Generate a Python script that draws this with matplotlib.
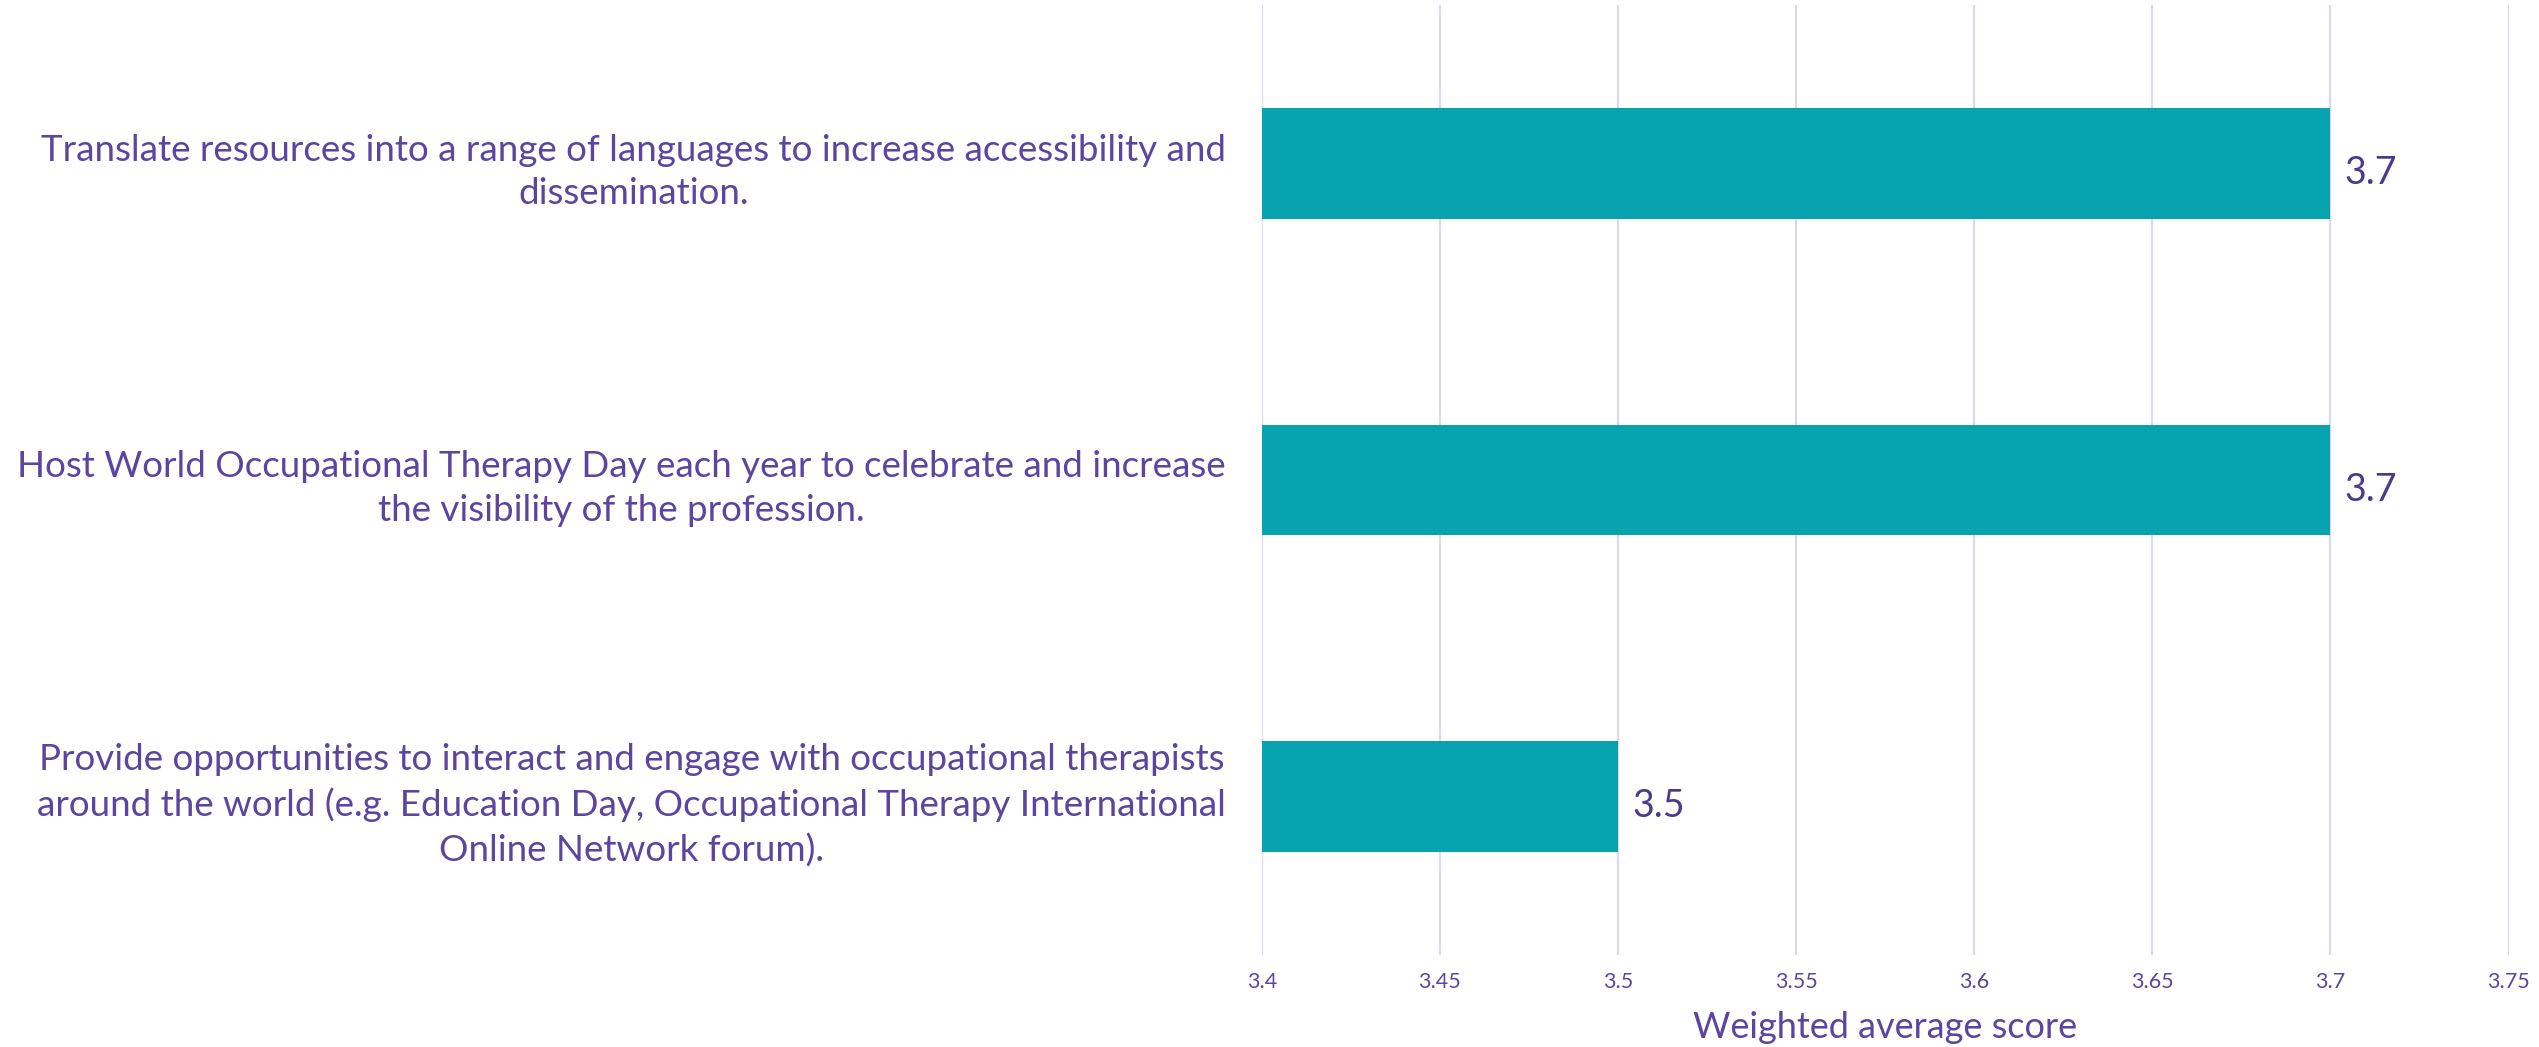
import matplotlib
matplotlib.use("Agg")
from matplotlib import pyplot as plt
import numpy as np

# data (top to bottom)
labels = [
    "Translate resources into a range of languages to increase accessibility and\ndissemination.",
    "Host World Occupational Therapy Day each year to celebrate and increase\nthe visibility of the profession.",
    "Provide opportunities to interact and engage with occupational therapists\naround the world (e.g. Education Day, Occupational Therapy International\nOnline Network forum).",
]
scores = [3.7, 3.7, 3.5]
xticks = [3.4, 3.45, 3.5, 3.55, 3.6, 3.65, 3.7, 3.75]
xtick_labels = ["3.4", "3.45", "3.5", "3.55", "3.6", "3.65", "3.7", "3.75"]

purple = "#5B45A0"
teal = "#07A4B0"
grid_col = "#D9D8EA"

plt.rcParams['font.family'] = ['Lato', 'DejaVu Sans']

fig = plt.figure(figsize=(25.39, 10.47), dpi=100)
ax = fig.add_axes([0.497, 0.088, 0.491, 0.907])

y = np.arange(len(labels))
ax.barh(y, np.array(scores) - 3.4, left=3.4, height=0.35, color=teal, zorder=3)
for yi, v in zip(y, scores):
    ax.text(v + 0.004, yi + 0.03, f"{v:g}", va="center", ha="left",
            fontsize=27, color="#4B3A8C")

ax.set_xlim(3.4, 3.75)
ax.set_ylim(2.5, -0.5)
ax.set_xticks(xticks)
ax.set_xticklabels(xtick_labels, fontsize=15.5, color=purple)
ax.set_yticks(y)
ax.set_yticklabels(labels, fontsize=26.5, color=purple,
                   multialignment="center", linespacing=1.4)
ax.tick_params(axis="x", length=0, pad=12)
ax.tick_params(axis="y", length=0, pad=26)
ax.grid(axis="x", color=grid_col, linewidth=1.5, zorder=0)
for s in ax.spines.values():
    s.set_visible(False)
ax.set_xlabel("Weighted average score", fontsize=26, color=purple, labelpad=14)

fig.savefig("out.png", dpi=100)
